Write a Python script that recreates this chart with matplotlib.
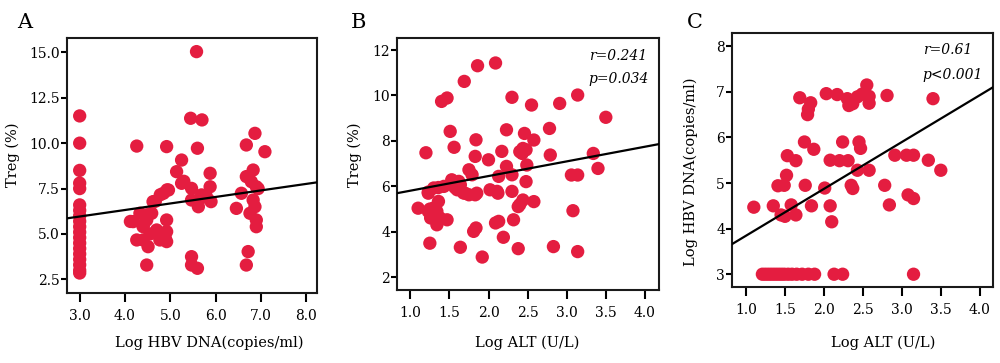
import matplotlib
matplotlib.use("Agg")
import matplotlib.pyplot as plt
import numpy as np

plt.rcParams['font.family'] = ['DejaVu Serif']

RED = '#E41D40'

# ---------------- Panel A data ----------------
a_x = [3.0]*19 + [
    4.26, 4.18, 4.33, 4.40, 4.26, 4.48, 4.51, 4.48, 4.62, 4.70, 4.85, 4.96, 4.92, 4.92, 4.92, 4.92, 4.77, 4.59, 4.40, 4.55,
    4.12, 4.41, 4.49, 4.67, 4.78, 4.93, 4.89,
    5.25, 5.14, 5.25, 5.47, 5.47, 5.45, 5.70, 5.58, 5.60, 5.62, 5.69, 5.47, 5.47, 5.60, 5.88, 5.88, 5.90, 5.80, 5.62, 5.30,
    6.46, 6.57, 6.68, 6.68, 6.72, 6.68, 6.87, 6.83, 6.79, 6.90, 6.83, 6.87, 6.90, 6.90, 6.76, 7.09, 6.94]
a_y = [11.5, 10.0, 8.5, 7.8, 7.5, 6.6, 6.3, 6.0, 5.7, 5.4, 5.1, 4.8, 4.5, 4.2, 3.9, 3.6, 3.3, 3.0, 2.85] + [
    9.84, 5.68, 6.14, 4.67, 4.67, 5.77, 4.30, 3.29, 6.78, 5.22, 7.24, 7.42, 9.81, 5.77, 5.13, 4.58, 4.67, 6.14, 5.40, 5.00,
    5.69, 5.51, 6.06, 6.80, 7.16, 7.43, 4.77,
    9.07, 8.43, 7.79, 7.51, 6.87, 11.37, 11.28, 15.04, 9.72, 6.78, 7.15, 3.75, 3.29, 3.11, 8.34, 7.60, 6.78, 7.05, 6.50, 7.90,
    6.41, 7.24, 9.90, 8.16, 4.03, 3.29, 10.54, 8.52, 7.88, 7.60, 6.87, 6.50, 5.77, 5.40, 6.14, 9.53, 7.50]

# ---------------- Panel B data ----------------
b_x = [1.10, 1.20, 1.23, 1.25, 1.23, 1.30, 1.36, 1.34, 1.26, 1.34, 1.47, 1.38, 1.30, 1.43, 1.53, 1.60, 1.64, 1.68, 1.75,
       1.83, 1.62, 1.75, 1.79, 2.00, 1.83, 1.84, 2.11, 2.02, 2.13, 2.17, 2.23, 2.30, 2.30, 2.23, 2.30, 1.51, 1.56, 1.40,
       1.47, 1.69, 1.86, 2.09, 1.64, 1.92, 1.81, 1.84, 2.09, 2.13, 2.19, 2.32, 2.38, 2.38, 2.44, 2.40, 2.44, 2.46, 2.49,
       2.48, 2.55, 2.58, 2.58, 2.78, 2.79, 2.83, 2.91, 3.06, 3.08, 3.14, 3.14, 3.14, 3.34, 3.40, 3.50, 1.23, 1.36, 1.57,
       1.70, 1.85, 2.43, 2.40, 2.12, 2.48, 1.25]
b_y = [5.04, 7.48, 5.70, 3.50, 4.90, 5.05, 5.34, 4.90, 4.61, 4.31, 4.53, 4.61, 5.93, 6.00, 6.29, 5.85, 6.07, 5.71, 5.63,
       5.63, 6.22, 6.73, 6.51, 7.17, 7.32, 8.05, 5.78, 5.85, 6.44, 7.54, 6.88, 6.51, 5.78, 8.49, 9.92, 8.42, 7.72, 9.74,
       9.89, 10.62, 11.31, 11.43, 3.32, 2.89, 4.02, 4.17, 4.39, 4.46, 3.76, 4.53, 3.26, 5.11, 5.40, 7.53, 7.67, 8.33, 6.94,
       6.21, 9.58, 8.04, 5.33, 8.55, 7.38, 3.35, 9.65, 6.50, 4.93, 6.50, 10.02, 3.13, 7.45, 6.79, 9.04, 5.75, 5.95, 5.95,
       5.70, 5.70, 7.45, 5.20, 5.70, 7.61, 5.00]

# ---------------- Panel C data ----------------
c_x = [1.21, 1.25, 1.29, 1.33, 1.37, 1.41, 1.45, 1.49, 1.54, 1.59, 1.65, 1.72, 1.80, 1.88, 2.13, 2.24, 3.15,
       1.10, 1.35, 1.45, 1.50, 1.58, 1.64, 1.41, 1.49, 1.52, 1.53, 1.64, 1.75, 1.87, 1.76, 1.84, 1.69, 1.83, 1.80,
       1.79, 2.03, 2.17, 2.30, 2.37, 2.43, 2.01, 2.08, 2.10, 2.08, 2.20, 2.31, 2.24, 2.35, 2.37, 2.43, 2.45, 2.47,
       2.55, 2.53, 2.58, 2.58, 2.49, 2.58, 2.81, 2.78, 2.84, 2.91, 3.06, 3.15, 3.08, 3.15, 3.34, 3.50, 3.40, 2.32]
c_y = [3.0]*17 + [
       4.47, 4.50, 4.30, 4.27, 4.52, 4.30, 4.94, 4.95, 5.17, 5.60, 5.49, 5.90, 5.74, 4.95, 4.50, 6.87, 6.76, 6.62,
       6.50, 6.96, 6.94, 6.85, 6.74, 6.89, 4.89, 4.50, 4.15, 5.50, 5.49, 5.49, 5.90, 4.95, 4.88, 5.28, 5.90, 5.76,
       7.15, 6.95, 6.90, 6.75, 6.95, 5.28, 6.92, 4.95, 4.52, 5.61, 5.61, 5.61, 4.74, 4.66, 5.50, 5.28, 6.85, 6.70]

# regression lines (slope, intercept)
fit_slope = [0.359, 0.645, 1.027]
fit_intercept = [4.884, 5.165, 2.818]

panel_letters = ['A', 'B', 'C']
x_labels = ['Log HBV DNA(copies/ml)', 'Log ALT (U/L)', 'Log ALT (U/L)']
y_labels = ['Treg (%)', 'Treg (%)', 'Log HBV DNA(copies/ml)']
a_xticks = [3.0, 4.0, 5.0, 6.0, 7.0, 8.0]
a_yticks = [2.5, 5.0, 7.5, 10.0, 12.5, 15.0]
b_xticks = [1.0, 1.5, 2.0, 2.5, 3.0, 3.5, 4.0]
b_yticks = [2, 4, 6, 8, 10, 12]
c_xticks = [1.0, 1.5, 2.0, 2.5, 3.0, 3.5, 4.0]
c_yticks = [3, 4, 5, 6, 7, 8]
stats_b = ['r=0.241', 'p=0.034']
stats_c = ['r=0.61', 'p<0.001']

W, H = 1000, 363
fig = plt.figure(figsize=(10, 3.63), dpi=100)

def px_rect(x0, y0, x1, y1):
    return [x0 / W, 1 - y1 / H, (x1 - x0) / W, (y1 - y0) / H]

axA = fig.add_axes(px_rect(67, 38, 317, 293))
axB = fig.add_axes(px_rect(397, 38, 659, 290))
axC = fig.add_axes(px_rect(732, 33, 993, 287))

specs = [
    (axA, a_x, a_y, (2.72, 8.24), (1.75, 15.79), a_xticks, a_yticks, '%.1f', '%.1f'),
    (axB, b_x, b_y, (0.83, 4.18), (1.44, 12.53), b_xticks, b_yticks, '%.1f', '%d'),
    (axC, c_x, c_y, (0.82, 4.17), (2.72, 8.29), c_xticks, c_yticks, '%.1f', '%d'),
]

for i, (ax, xs, ys, xl, yl, xt, yt, xf, yf) in enumerate(specs):
    ax.scatter(xs, ys, s=92, color=RED, edgecolors='none', zorder=2)
    lx = np.array(xl)
    ax.plot(lx, fit_slope[i] * lx + fit_intercept[i], color='black', lw=1.6, zorder=3)
    ax.set_xlim(*xl)
    ax.set_ylim(*yl)
    ax.set_xticks(xt)
    ax.set_yticks(yt)
    ax.set_xticklabels([xf % v for v in xt])
    ax.set_yticklabels([yf % v for v in yt])
    for sp in ax.spines.values():
        sp.set_linewidth(1.5)
        sp.set_color('#1a1a1a')
    ax.tick_params(axis='x', direction='out', length=6.5, width=1.5, pad=5, labelsize=10)
    ax.tick_params(axis='y', direction='out', length=4, width=1.5, pad=1, labelsize=10)

# axis labels
fig.text(209 / W, 1 - 343 / H, x_labels[0], ha='center', va='center', fontsize=10.5)
fig.text(527 / W, 1 - 343 / H, x_labels[1], ha='center', va='center', fontsize=10.5)
fig.text(883 / W, 1 - 343 / H, x_labels[2], ha='center', va='center', fontsize=10.5)
fig.text(12.5 / W, 1 - 155 / H, y_labels[0], ha='center', va='center', rotation=90, fontsize=10.5)
fig.text(354.5 / W, 1 - 155 / H, y_labels[1], ha='center', va='center', rotation=90, fontsize=10.5)
fig.text(691 / W, 1 - 171.5 / H, y_labels[2], ha='center', va='center', rotation=90, fontsize=10.5)

# panel letters
for lx_px, letter in zip([17, 351, 687], panel_letters):
    fig.text(lx_px / W, 1 - 28 / H, letter, ha='left', va='baseline', fontsize=15)

# stats text
fig.text(589 / W, 1 - 60.5 / H, stats_b[0], ha='left', va='baseline', fontsize=10, style='italic')
fig.text(588 / W, 1 - 83 / H, stats_b[1], ha='left', va='baseline', fontsize=10, style='italic')
fig.text(923 / W, 1 - 53.5 / H, stats_c[0], ha='left', va='baseline', fontsize=10, style='italic')
fig.text(922 / W, 1 - 78.5 / H, stats_c[1], ha='left', va='baseline', fontsize=10, style='italic')

fig.savefig('out.png', dpi=100)
